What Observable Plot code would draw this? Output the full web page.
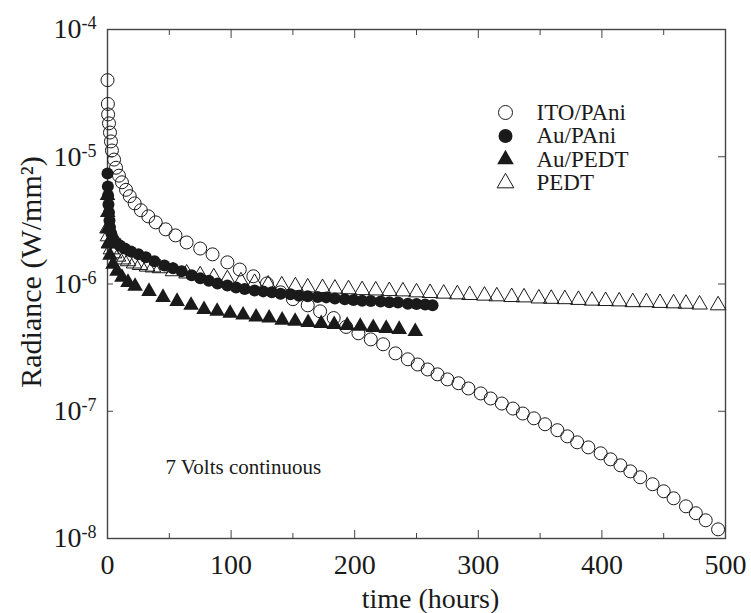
<!DOCTYPE html>
<html>
<head>
<meta charset="utf-8">
<script src="https://cdn.jsdelivr.net/npm/d3@7"></script>
<script src="https://cdn.jsdelivr.net/npm/@observablehq/plot@0.6"></script>
<style>
  html, body { margin: 0; padding: 0; background: #fff; }
  svg { font-family: "Liberation Serif", "DejaVu Serif", serif; }
</style>
</head>
<body>
<div id="chart"></div>
<script>
// ---- data (time in hours, radiance in W/mm^2) ----
const itoPAniTime = [0, 0.3, 0.5, 1.2, 2, 2.8, 3.6, 5.3, 6.9, 9.3, 11.7, 15, 18, 22, 27, 33, 39, 47, 55, 64,
  75, 85, 97, 107, 118, 129, 140, 150, 162, 172, 183, 193, 203, 213, 223, 233, 243, 251, 259, 267,
  275, 284, 292, 302, 310, 319, 328, 336, 345, 354, 364, 372, 380, 389, 399, 407, 415, 423, 431, 441,
  450, 458, 468, 476, 484, 494];
const itoPAniRad = [4.0e-5, 2.6e-5, 2.15e-5, 1.83e-5, 1.55e-5, 1.32e-5, 1.12e-5, 9.5e-6, 8.2e-6, 7.1e-6,
  6.3e-6, 5.5e-6, 4.9e-6, 4.3e-6, 3.8e-6, 3.4e-6, 3.05e-6, 2.69e-6, 2.41e-6, 2.12e-6,
  1.90e-6, 1.71e-6, 1.48e-6, 1.30e-6, 1.15e-6, 1.01e-6, 8.6e-7, 7.6e-7, 6.8e-7, 6.1e-7,
  5.4e-7, 4.6e-7, 4.1e-7, 3.67e-7, 3.36e-7, 2.85e-7, 2.56e-7, 2.33e-7, 2.13e-7, 1.95e-7,
  1.78e-7, 1.66e-7, 1.51e-7, 1.38e-7, 1.26e-7, 1.15e-7, 1.05e-7, 9.6e-8, 8.8e-8, 7.9e-8,
  7.1e-8, 6.35e-8, 5.7e-8, 5.2e-8, 4.67e-8, 4.19e-8, 3.76e-8, 3.37e-8, 3.03e-8, 2.67e-8,
  2.35e-8, 2.07e-8, 1.79e-8, 1.58e-8, 1.39e-8, 1.18e-8];

const auPAniTime = [0, 0.3, 0.5, 0.8, 1.2, 1.6, 2, 3, 4.5, 7, 10, 14, 19, 25, 31, 38, 46, 53, 60, 68,
  75, 82, 89, 97, 104, 111, 119, 126, 133, 140, 148, 155, 162, 170, 177, 184, 192, 199, 206, 213,
  221, 228, 235, 243, 250, 257, 263];
const auPAniRad = [7.4e-6, 5.85e-6, 4.97e-6, 4.22e-6, 3.65e-6, 3.16e-6, 2.79e-6, 2.50e-6, 2.28e-6, 2.12e-6,
  2.01e-6, 1.90e-6, 1.80e-6, 1.71e-6, 1.62e-6, 1.51e-6, 1.40e-6, 1.33e-6, 1.26e-6, 1.17e-6,
  1.11e-6, 1.06e-6, 1.01e-6, 9.75e-7, 9.4e-7, 9.15e-7, 8.9e-7, 8.75e-7, 8.6e-7, 8.4e-7,
  8.3e-7, 8.1e-7, 8.0e-7, 7.9e-7, 7.85e-7, 7.7e-7, 7.6e-7, 7.5e-7, 7.4e-7, 7.35e-7,
  7.3e-7, 7.2e-7, 7.15e-7, 7.0e-7, 6.95e-7, 6.9e-7, 6.8e-7];

const auPEDTTime = [0, 0.2, 0.4, 0.8, 2, 4.5, 7.7, 11.7, 16.6, 22.3, 33.6, 44.9, 56.3, 67.6, 78.1, 88.7,
  99.2, 109.7, 120.2, 130.8, 141.3, 151.8, 162.3, 172.9, 183.4, 193.9, 204.5, 215, 225.5, 236, 249];
const auPEDTRad = [4.97e-6, 3.65e-6, 2.73e-6, 2.08e-6, 1.68e-6, 1.43e-6, 1.26e-6, 1.13e-6, 1.03e-6, 9.6e-7,
  8.75e-7, 7.85e-7, 7.3e-7, 6.8e-7, 6.3e-7, 6.1e-7, 5.9e-7, 5.7e-7, 5.5e-7, 5.4e-7,
  5.2e-7, 5.1e-7, 4.99e-7, 4.9e-7, 4.8e-7, 4.73e-7, 4.65e-7, 4.56e-7, 4.48e-7, 4.4e-7, 4.24e-7];

const pedtTime = [0, 0.4, 1.2, 2.8, 5.3, 8.5, 12.6, 16.6, 21.5, 26.3, 32, 36.8,
  42.5, 53, 64, 75, 86, 97, 108, 119, 130, 141, 152, 162, 174, 184, 195, 206, 217, 228, 239, 250,
  261, 272, 283, 293, 305, 315, 327, 337, 349, 359, 370, 381, 392, 403, 414, 425, 436, 447, 458, 468,
  479, 494];
const pedtRad = [2.73e-6, 2.37e-6, 2.08e-6, 1.87e-6, 1.74e-6, 1.64e-6, 1.56e-6, 1.51e-6, 1.45e-6, 1.41e-6, 1.37e-6, 1.35e-6,
  1.33e-6, 1.26e-6, 1.21e-6, 1.17e-6, 1.13e-6, 1.09e-6, 1.05e-6, 1.02e-6, 9.9e-7, 9.75e-7,
  9.6e-7, 9.4e-7, 9.3e-7, 9.2e-7, 9.1e-7, 8.95e-7, 8.9e-7, 8.8e-7, 8.75e-7, 8.6e-7,
  8.5e-7, 8.4e-7, 8.3e-7, 8.2e-7, 8.1e-7, 8.0e-7, 7.9e-7, 7.85e-7, 7.7e-7, 7.65e-7,
  7.6e-7, 7.5e-7, 7.4e-7, 7.35e-7, 7.3e-7, 7.2e-7, 7.2e-7, 7.1e-7, 7.05e-7, 7.0e-7,
  6.9e-7, 6.8e-7];

const seriesNames = ["ITO/PAni", "Au/PAni", "Au/PEDT", "PEDT"];
const xMajorTicks = [0, 100, 200, 300, 400, 500];
const xMinorTicks = [50, 150, 250, 350, 450];
const yMajorTicks = [1e-8, 1e-7, 1e-6, 1e-5, 1e-4];
const annotation = "7 Volts continuous";
const xLabel = "time (hours)";
const yLabel = "Radiance (W/mm²)";

// ---- build tables ----
const toRows = (t, v) => t.map((d, i) => ({t: d, v: v[i]}));
const itoRows = toRows(itoPAniTime, itoPAniRad);
const auPAniRows = toRows(auPAniTime, auPAniRad);
const auPEDTRows = toRows(auPEDTTime, auPEDTRad);
const pedtRows = toRows(pedtTime, pedtRad);

const ink = "#1a1a1a";
const styles = {
  "ITO/PAni": {symbol: "circle", fill: "none", stroke: ink, r: 6.5, lr: 7},
  "Au/PAni": {symbol: "circle", fill: ink, stroke: "none", r: 6, lr: 7},
  "Au/PEDT": {symbol: "triangle", fill: ink, stroke: "none", r: 5.8, lr: 6.2},
  "PEDT": {symbol: "triangle", fill: "none", stroke: ink, r: 5.8, lr: 6.2}
};

const legendMarks = seriesNames.flatMap((name, i) => {
  const s = styles[name];
  const dy = 83 + i * 23.5;
  return [
    Plot.dot([name], {frameAnchor: "top-left", dx: 398, dy, symbol: s.symbol, r: s.lr,
      fill: s.fill, stroke: s.stroke, strokeWidth: 1}),
    Plot.text([name], {frameAnchor: "top-left", dx: 429, dy, text: d => d, textAnchor: "start",
      lineAnchor: "middle", fontSize: 23, fill: ink})
  ];
});

const frameColor = "#444";
const chart = Plot.plot({
  width: 751,
  height: 613,
  marginLeft: 107,
  marginRight: 26,
  marginTop: 29,
  marginBottom: 75,
  style: {background: "#fff", color: ink, fontFamily: '"Liberation Serif", serif'},
  x: {domain: [0, 500], axis: null},
  y: {type: "log", domain: [1e-8, 1e-4], axis: null},
  marks: [
    // inward ticks
    Plot.axisX({anchor: "bottom", ticks: xMajorTicks, tickSize: 8, dy: -8, tickFormat: () => "", label: null, stroke: frameColor}),
    Plot.axisX({anchor: "bottom", ticks: xMinorTicks, tickSize: 5, dy: -5, tickFormat: () => "", label: null, stroke: frameColor}),
    Plot.axisX({anchor: "top", ticks: xMajorTicks, tickSize: 8, dy: 8, tickFormat: () => "", label: null, stroke: frameColor}),
    Plot.axisX({anchor: "top", ticks: xMinorTicks, tickSize: 5, dy: 5, tickFormat: () => "", label: null, stroke: frameColor}),
    Plot.axisY({anchor: "left", ticks: yMajorTicks, tickSize: 6, dx: 6, tickFormat: () => "", label: null, stroke: frameColor}),
    Plot.axisY({anchor: "right", ticks: yMajorTicks, tickSize: 8, dx: -8, tickFormat: () => "", label: null, stroke: frameColor}),
    // tick labels
    Plot.axisX({anchor: "bottom", ticks: xMajorTicks, tickSize: 0, tickPadding: 16, fontSize: 28, label: null, fill: ink}),
    Plot.axisY({anchor: "left", ticks: yMajorTicks, tickSize: 0, tickPadding: 11, fontSize: 28, label: null, fill: ink,
      tickFormat: d => "10^" + Math.round(Math.log10(d))}),
    Plot.frame({stroke: frameColor, strokeWidth: 1.4}),
    // data
    Plot.dot(pedtRows, {x: "t", y: "v", symbol: "triangle", r: styles["PEDT"].r, fill: "none", stroke: ink, strokeWidth: 1}),
    Plot.dot(auPAniRows, {x: "t", y: "v", symbol: "circle", r: styles["Au/PAni"].r, fill: ink}),
    Plot.dot(auPEDTRows, {x: "t", y: "v", symbol: "triangle", r: styles["Au/PEDT"].r, fill: ink}),
    Plot.dot(itoRows, {x: "t", y: "v", symbol: "circle", r: styles["ITO/PAni"].r, fill: "none", stroke: ink, strokeWidth: 1}),
    // annotation & axis titles
    Plot.text([annotation], {frameAnchor: "top-left", dx: 58, dy: 438, text: d => d, textAnchor: "start",
      lineAnchor: "middle", fontSize: 21, fill: ink}),
    Plot.text([xLabel], {frameAnchor: "bottom", dx: 14, dy: 61, text: d => d, textAnchor: "middle",
      lineAnchor: "middle", fontSize: 28, fill: ink}),
    Plot.text([yLabel], {frameAnchor: "left", dx: -76, dy: -12, rotate: -90, text: d => d, textAnchor: "middle",
      lineAnchor: "middle", fontSize: 30, fill: ink}),
    ...legendMarks
  ]
});

// superscript exponents on the y tick labels
chart.querySelectorAll("text").forEach(el => {
  const m = /^10\^(-?\d+)$/.exec(el.textContent);
  if (m) {
    el.textContent = "10";
    const ts = document.createElementNS("http://www.w3.org/2000/svg", "tspan");
    ts.setAttribute("dy", "-9");
    ts.setAttribute("font-size", "18");
    ts.textContent = m[1];
    el.appendChild(ts);
  }
});

document.getElementById("chart").appendChild(chart);
</script>
</body>
</html>
